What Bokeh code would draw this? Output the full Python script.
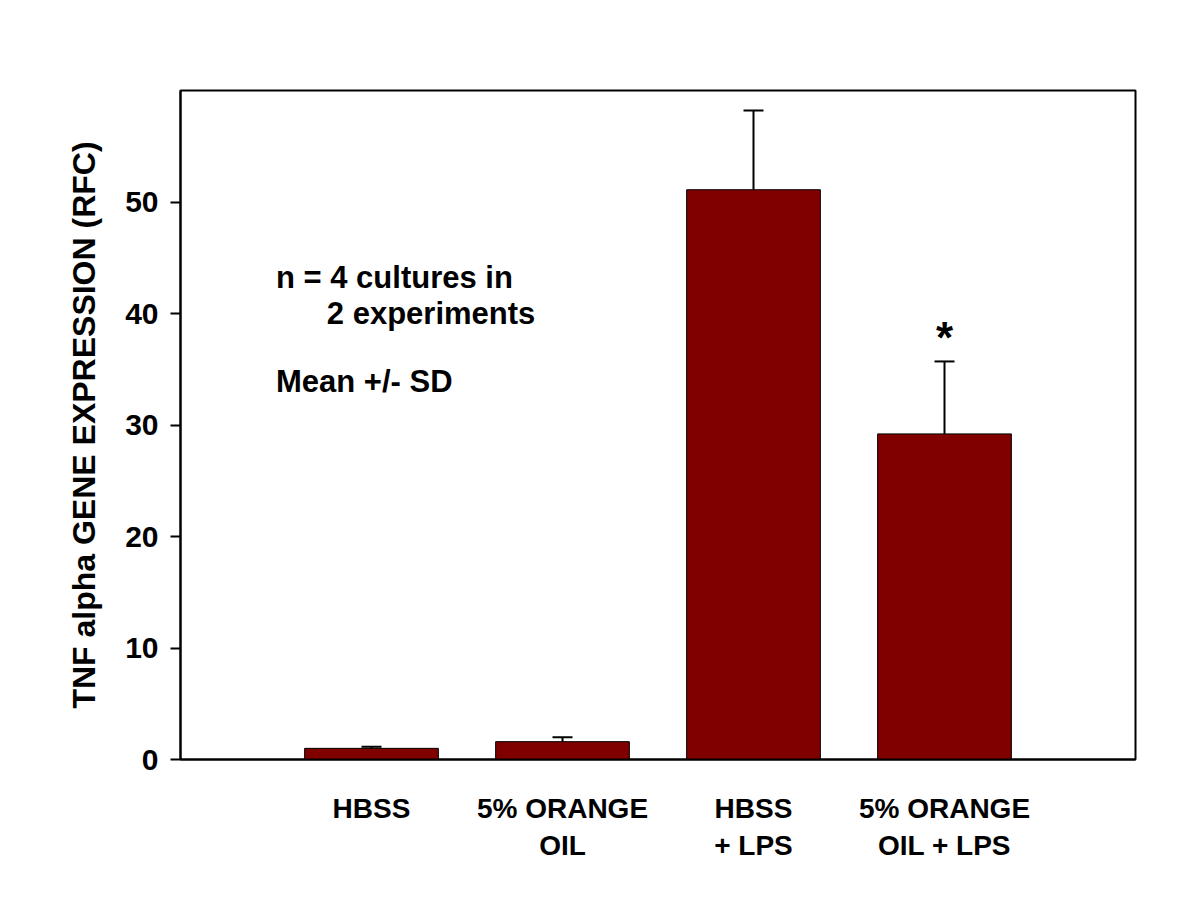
from bokeh.plotting import figure
from bokeh.models import (ColumnDataSource, Range1d, FixedTicker, Whisker, TeeHead, Label)
from bokeh.core.properties import value
from bokeh.embed import file_html
from bokeh.resources import INLINE

categories = ["HBSS", "5% ORANGE\nOIL", "HBSS\n+ LPS", "5% ORANGE\nOIL + LPS"]
means = [1.0, 1.6, 51.1, 29.2]
sds = [0.15, 0.4, 7.1, 6.5]
y_ticks = [0, 10, 20, 30, 40, 50]
significant = [False, False, False, True]

FONT = "Liberation Sans"
xs = list(range(len(categories)))
uppers = [m + s for m, s in zip(means, sds)]
src = ColumnDataSource(dict(x=xs, top=means, upper=uppers))

p = figure(width=1192, height=899, frame_width=955, frame_height=669,
           min_border_left=180, min_border_right=57, min_border_top=90, min_border_bottom=140,
           x_range=Range1d(-1, len(categories)), y_range=Range1d(0, 60),
           output_backend="svg", toolbar_location=None)
p.background_fill_color = "white"
p.border_fill_color = "white"
p.outline_line_color = "black"
p.outline_line_width = 2
p.xgrid.visible = False
p.ygrid.visible = False

p.vbar(x="x", top="top", bottom=0, width=0.7, source=src,
       fill_color="#800000", line_color="black", line_width=1)

wh = Whisker(base="x", lower="top", upper="upper", source=src, dimension="height",
             line_color="black", line_width=2,
             upper_head=TeeHead(size=20, line_color="black", line_width=2),
             lower_head=None, level="glyph")
p.add_layout(wh)

sx = [x for x, s in zip(xs, significant) if s]
sy = [u for u, s in zip(uppers, significant) if s]
p.text(x=sx, y=sy, text=["*"] * len(sx), text_font=value(FONT), text_font_style="bold",
       text_font_size="44px", text_align="center", text_baseline="alphabetic",
       y_offset=-24, text_color="black")

# axes
p.yaxis.ticker = FixedTicker(ticks=y_ticks)
p.yaxis.axis_label = "TNF alpha GENE EXPRESSION (RFC)"
p.yaxis.axis_label_text_font = FONT
p.yaxis.axis_label_text_font_style = "bold"
p.yaxis.axis_label_text_font_size = "32px"
p.yaxis.axis_label_text_color = "black"
p.yaxis.axis_label_standoff = 20
p.yaxis.major_label_text_font = FONT
p.yaxis.major_label_text_font_style = "bold"
p.yaxis.major_label_text_font_size = "30px"
p.yaxis.major_label_text_color = "black"
p.yaxis.major_label_standoff = 12
p.yaxis.major_tick_out = 10
p.yaxis.major_tick_in = 0
p.yaxis.minor_tick_out = 0
p.yaxis.minor_tick_in = 0
p.yaxis.axis_line_width = 2
p.yaxis.major_tick_line_width = 2
p.yaxis.axis_line_color = "black"
p.yaxis.major_tick_line_color = "black"

p.xaxis.ticker = FixedTicker(ticks=xs)
p.xaxis.major_label_overrides = {x: c for x, c in zip(xs, categories)}
p.xaxis.major_label_text_font = FONT
p.xaxis.major_label_text_font_style = "bold"
p.xaxis.major_label_text_font_size = "28px"
p.xaxis.major_label_text_color = "black"
p.xaxis.major_label_text_align = "center"
p.xaxis.major_label_standoff = 33
p.xaxis.major_tick_out = 0
p.xaxis.major_tick_in = 0
p.xaxis.minor_tick_out = 0
p.xaxis.minor_tick_in = 0
p.xaxis.axis_line_width = 2
p.xaxis.axis_line_color = "black"

notes = [("n = 4 cultures in", -0.5, 43.2),
         ("2 experiments", -0.234, 40.0),
         ("Mean +/- SD", -0.5, 33.9)]
for t, lx, ly in notes:
    p.add_layout(Label(x=lx, y=ly, text=t, text_font=FONT, text_font_style="bold",
                       text_font_size="31px", text_color="black", text_baseline="alphabetic"))

open("out.html", "w").write(file_html(p, INLINE))
